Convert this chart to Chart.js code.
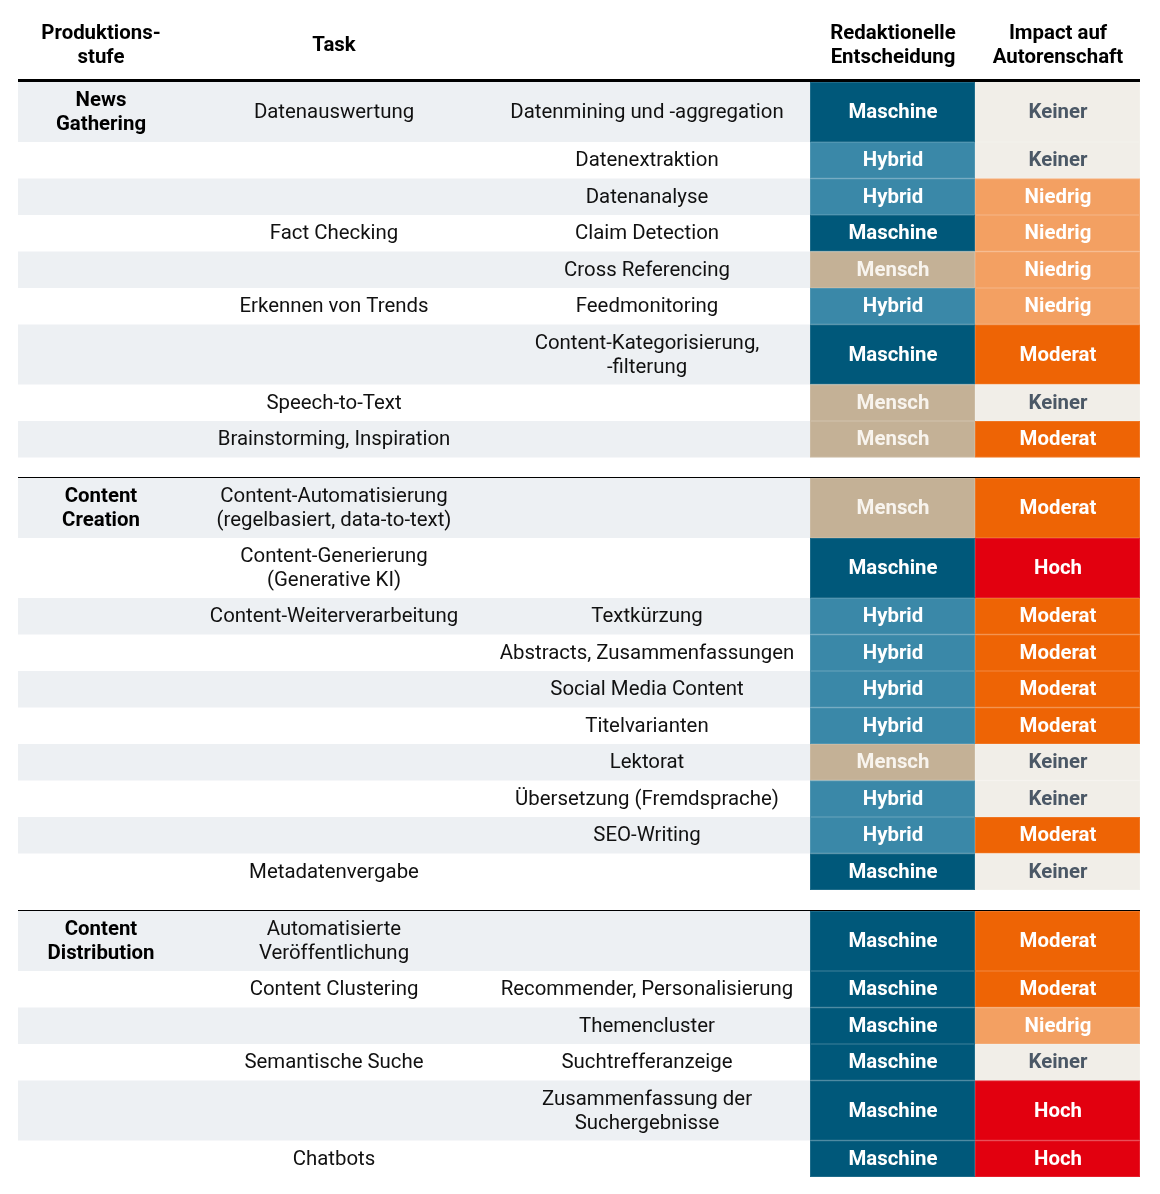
<!DOCTYPE html>
<html>
<head>
<meta charset="utf-8">
<script src="https://cdn.jsdelivr.net/npm/chart.js@4"></script>
<style>
  html, body { margin: 0; padding: 0; background: #fff; }
  canvas { display: block; }
</style>
</head>
<body>
<canvas id="table" width="1160" height="1194" style="width:1160px;height:1194px"></canvas>
<script>
// rows per Produktionsstufe
const groupSizes = [9, 10, 6];

const stufe = [
  'News\nGathering', '', '', '', '', '', '', '', '',
  'Content\nCreation', '', '', '', '', '', '', '', '', '',
  'Content\nDistribution', '', '', '', '', ''
];

const tasks = [
  'Datenauswertung', '', '', 'Fact Checking', '', 'Erkennen von Trends', '', 'Speech-to-Text', 'Brainstorming, Inspiration',
  'Content-Automatisierung\n(regelbasiert, data-to-text)', 'Content-Generierung\n(Generative KI)', 'Content-Weiterverarbeitung', '', '', '', '', '', '', 'Metadatenvergabe',
  'Automatisierte\nVeröffentlichung', 'Content Clustering', '', 'Semantische Suche', '', 'Chatbots'
];

const subtasks = [
  'Datenmining und -aggregation', 'Datenextraktion', 'Datenanalyse', 'Claim Detection', 'Cross Referencing', 'Feedmonitoring', 'Content-Kategorisierung,\n-filterung', '', '',
  '', '', 'Textkürzung', 'Abstracts, Zusammenfassungen', 'Social Media Content', 'Titelvarianten', 'Lektorat', 'Übersetzung (Fremdsprache)', 'SEO-Writing', '',
  '', 'Recommender, Personalisierung', 'Themencluster', 'Suchtrefferanzeige', 'Zusammenfassung der\nSuchergebnisse', ''
];

const entscheidung = [
  'Maschine', 'Hybrid', 'Hybrid', 'Maschine', 'Mensch', 'Hybrid', 'Maschine', 'Mensch', 'Mensch',
  'Mensch', 'Maschine', 'Hybrid', 'Hybrid', 'Hybrid', 'Hybrid', 'Mensch', 'Hybrid', 'Hybrid', 'Maschine',
  'Maschine', 'Maschine', 'Maschine', 'Maschine', 'Maschine', 'Maschine'
];

const impact = [
  'Keiner', 'Keiner', 'Niedrig', 'Niedrig', 'Niedrig', 'Niedrig', 'Moderat', 'Keiner', 'Moderat',
  'Moderat', 'Hoch', 'Moderat', 'Moderat', 'Moderat', 'Moderat', 'Keiner', 'Keiner', 'Moderat', 'Keiner',
  'Moderat', 'Moderat', 'Niedrig', 'Keiner', 'Hoch', 'Hoch'
];

const headers = ['Produktions-\nstufe', 'Task', '', 'Redaktionelle\nEntscheidung', 'Impact auf\nAutorenschaft'];

const decisionColors = { Maschine: '#00587a', Hybrid: '#3a88a8', Mensch: '#c4b196' };
const decisionText = { Maschine: '#ffffff', Hybrid: '#ffffff', Mensch: '#f8f4ee' };
const impactColors = { Keiner: '#f1eee8', Niedrig: '#f3a062', Moderat: '#ee6405', Hoch: '#e2000f' };
const impactText = { Keiner: '#4b5866', Niedrig: '#ffffff', Moderat: '#ffffff', Hoch: '#ffffff' };

// layout (chart units = pixels of the value scales)
const left = 18, right = 1140;
const colCenters = [101, 334, 647, 893, 1058];
const cellEdges = [810, 975, 1140];
const rowTop = 82, singleH = 36.5, doubleH = 60, groupGap = 20;
const lineH = 24;
const FONT = 'Roboto, "Noto Sans", sans-serif';
const SIZE = '20.4px ';

function nLines(i) {
  return [stufe[i], tasks[i], subtasks[i]]
    .map(s => s.split('\n').length)
    .reduce((a, b) => Math.max(a, b), 1);
}

function rowBoxes() {
  const boxes = [];
  let y = rowTop, idx = 0;
  groupSizes.forEach((n, g) => {
    if (g > 0) { y = Math.floor(y + groupGap); boxes.push({ sep: y }); y += 1; }
    for (let k = 0; k < n; k++, idx++) {
      const h = nLines(idx) > 1 ? doubleH : singleH;
      boxes.push({ i: idx, k: k, y0: y, y1: y + h });
      y += h;
    }
  });
  return boxes;
}

function drawText(ctx, text, x, y, font, color) {
  if (!text) return;
  const lines = text.split('\n');
  ctx.font = font;
  ctx.fillStyle = color;
  ctx.textAlign = 'center';
  ctx.textBaseline = 'middle';
  lines.forEach((l, j) => ctx.fillText(l, x, y + 1 + (j - (lines.length - 1) / 2) * lineH));
}

const tablePlugin = {
  id: 'tablePlugin',
  beforeDatasetsDraw(chart) {
    const ctx = chart.ctx;
    const xs = chart.scales.x, ys = chart.scales.y;
    const X = v => xs.getPixelForValue(v);
    const Y = v => ys.getPixelForValue(v);
    ctx.save();

    // header
    headers.forEach((h, c) => drawText(ctx, h, X(colCenters[c]), Y(45), 'bold ' + SIZE + FONT, '#000'));
    ctx.fillStyle = '#000';
    ctx.fillRect(X(left), Y(79), X(right) - X(left), Y(82) - Y(79));

    rowBoxes().forEach(b => {
      if (b.sep !== undefined) {
        ctx.fillStyle = '#000';
        ctx.fillRect(X(left), Math.round(Y(b.sep)), X(right) - X(left), 1);
        return;
      }
      const i = b.i;
      const top = Y(b.y0), bot = Y(b.y1), mid = (top + bot) / 2;
      if (b.k % 2 === 0) {
        ctx.fillStyle = '#edf0f3';
        ctx.fillRect(X(left), top, X(cellEdges[0]) - X(left), bot - top);
      }
      // coloured cells
      const cells = [
        [decisionColors[entscheidung[i]], decisionText[entscheidung[i]], entscheidung[i]],
        [impactColors[impact[i]], impactText[impact[i]], impact[i]]
      ];
      cells.forEach((c, j) => {
        const x0 = X(cellEdges[j]), x1 = X(cellEdges[j + 1]);
        ctx.fillStyle = c[0];
        ctx.fillRect(x0, top, x1 - x0, bot - top);
        ctx.strokeStyle = 'rgba(255,255,255,0.12)';
        ctx.lineWidth = 1;
        ctx.strokeRect(x0 + 0.5, top + 0.5, x1 - x0 - 1, bot - top - 1);
        drawText(ctx, c[2], X(colCenters[3 + j]), mid, 'bold ' + SIZE + FONT, c[1]);
      });
      drawText(ctx, stufe[i], X(colCenters[0]), mid, 'bold ' + SIZE + FONT, '#000');
      drawText(ctx, tasks[i], X(colCenters[1]), mid, SIZE + FONT, '#111');
      drawText(ctx, subtasks[i], X(colCenters[2]), mid, SIZE + FONT, '#111');
    });
    ctx.restore();
  }
};

new Chart(document.getElementById('table'), {
  type: 'scatter',
  data: { datasets: [{ data: [] }] },
  options: {
    responsive: false,
    animation: false,
    devicePixelRatio: 1,
    layout: { padding: 0 },
    scales: {
      x: { type: 'linear', min: 0, max: 1160, display: false },
      y: { type: 'linear', min: 0, max: 1194, reverse: true, display: false }
    },
    plugins: { legend: { display: false }, tooltip: { enabled: false } }
  },
  plugins: [tablePlugin]
});
</script>
</body>
</html>
